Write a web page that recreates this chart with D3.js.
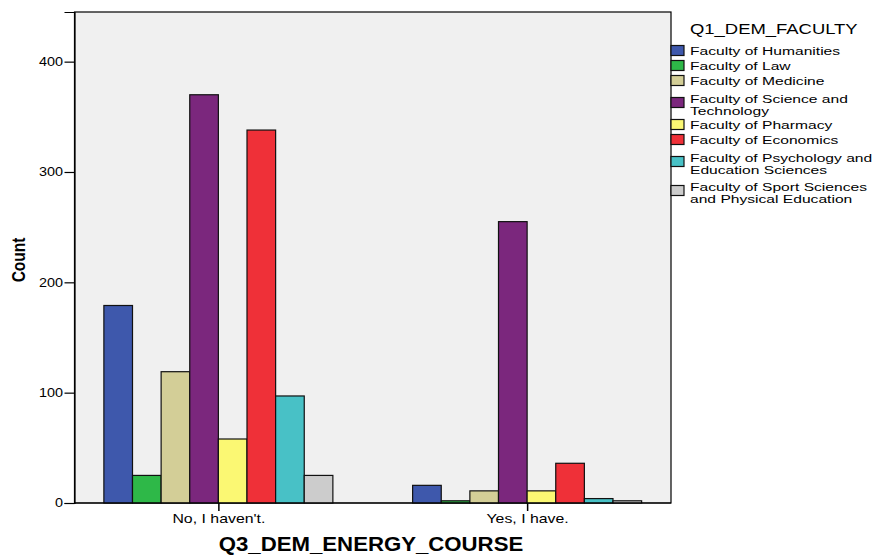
<!DOCTYPE html>
<html>
<head>
<meta charset="utf-8">
<script src="https://cdn.jsdelivr.net/npm/d3@7"></script>
<style>
  body { margin: 0; background: #ffffff; }
  svg { display: block; font-family: "Liberation Sans", Arial, sans-serif; }
</style>
</head>
<body>
<svg id="chart" width="883" height="555"></svg>
<script>
// Clustered bar chart: course attendance by faculty
const categories = ["No, I haven't.", "Yes, I have."];
const faculties = [
  "Faculty of Humanities",
  "Faculty of Law",
  "Faculty of Medicine",
  "Faculty of Science and Technology",
  "Faculty of Pharmacy",
  "Faculty of Economics",
  "Faculty of Psychology and Education Sciences",
  "Faculty of Sport Sciences and Physical Education"
];
const legendLines = [
  ["Faculty of Humanities"],
  ["Faculty of Law"],
  ["Faculty of Medicine"],
  ["Faculty of Science and", "Technology"],
  ["Faculty of Pharmacy"],
  ["Faculty of Economics"],
  ["Faculty of Psychology and", "Education Sciences"],
  ["Faculty of Sport Sciences", "and Physical Education"]
];
const countsNo  = [179, 25, 119, 370, 58, 338, 97, 25];
const countsYes = [16, 2, 11, 255, 11, 36, 4, 2];
const yTicks = [0, 100, 200, 300, 400];
const colors = ["#3e58ac", "#2eb848", "#d3ce97", "#7b277d", "#fbf873", "#ef3038", "#48c1c6", "#cccccc"];

const seriesByCategory = [countsNo, countsYes];

// the text in this chart is set slightly wide
const WIDE = { tick: 1.2, cat: 1.22, legend: 1.42, legendTitle: 1.23, title: 1.11, count: 1.18 };

const svg = d3.select("#chart");
const plot = { left: 74.5, right: 671, top: 12, bottom: 503 };

const y = d3.scaleLinear().domain([0, 445]).range([plot.bottom, plot.top]);
const x0 = d3.scalePoint().domain(categories).range([plot.left, plot.right]).padding(0.466);
const clusterWidth = 229;
const x1 = d3.scaleBand().domain(faculties).range([-clusterWidth / 2, clusterWidth / 2]).paddingInner(0);
const color = d3.scaleOrdinal().domain(faculties).range(colors);

// plot background and frame
svg.append("rect")
  .attr("x", plot.left).attr("y", plot.top)
  .attr("width", plot.right - plot.left).attr("height", plot.bottom - plot.top)
  .attr("fill", "#f0f0f0").attr("stroke", "#000").attr("stroke-width", 1.2);

// bars
const groups = svg.append("g").selectAll("g")
  .data(categories)
  .join("g")
  .attr("transform", d => `translate(${x0(d)},0)`);

groups.selectAll("rect")
  .data((c, i) => faculties.map((f, j) => ({ faculty: f, value: seriesByCategory[i][j] })))
  .join("rect")
  .attr("x", d => x1(d.faculty))
  .attr("width", x1.bandwidth())
  .attr("y", d => y(d.value))
  .attr("height", d => y(0) - y(d.value))
  .attr("fill", d => color(d.faculty))
  .attr("stroke", "#111")
  .attr("stroke-width", 1.2);

// y axis
const yAxis = svg.append("g")
  .attr("transform", `translate(${plot.left},0)`)
  .call(d3.axisLeft(y).tickValues(yTicks).tickSize(10).tickPadding(1.5).tickFormat(d3.format("d")));
yAxis.select(".domain").attr("stroke", "#000").attr("stroke-width", 1.2);
yAxis.selectAll(".tick line").attr("stroke", "#000").attr("stroke-width", 1.2);
yAxis.selectAll(".tick text")
  .attr("font-size", 12).attr("fill", "#000")
  .attr("font-family", "Liberation Sans, Arial, sans-serif")
  .attr("x", -11.5 / WIDE.tick)
  .attr("transform", `scale(${WIDE.tick},1)`);

// x axis
const xAxis = svg.append("g")
  .attr("transform", `translate(0,${plot.bottom})`)
  .call(d3.axisBottom(x0).tickSize(8).tickPadding(3));
xAxis.select(".domain").attr("stroke", "#000").attr("stroke-width", 1.2)
  .attr("d", `M${plot.left},0H${plot.right}`);
xAxis.selectAll(".tick line").attr("stroke", "#000").attr("stroke-width", 1.5);
xAxis.selectAll(".tick text")
  .attr("font-size", 13).attr("fill", "#000")
  .attr("font-family", "Liberation Sans, Arial, sans-serif")
  .attr("transform", `scale(${WIDE.cat},1)`);

// axis titles
svg.append("text")
  .attr("transform", `translate(25,260) rotate(-90) scale(1,${WIDE.count})`)
  .attr("text-anchor", "middle")
  .attr("font-size", 15.5).attr("font-weight", "bold")
  .text("Count");

svg.append("text")
  .attr("transform", `translate(371,551) scale(${WIDE.title},1)`)
  .attr("text-anchor", "middle")
  .attr("font-size", 20).attr("font-weight", "bold")
  .text("Q3_DEM_ENERGY_COURSE");

// legend
const legend = svg.append("g");
legend.append("text")
  .attr("transform", `translate(690,34) scale(${WIDE.legendTitle},1)`)
  .attr("font-size", 15)
  .text("Q1_DEM_FACULTY");

let cursor = 43;
legendLines.forEach((lines, i) => {
  const h = lines.length === 1 ? 15 : 29;
  const cy = cursor + h / 2;
  legend.append("rect")
    .attr("x", 671).attr("y", cy - 5)
    .attr("width", 13).attr("height", 10)
    .attr("fill", colors[i]).attr("stroke", "#111").attr("stroke-width", 1.2);
  const base = lines.length === 1 ? cy + 4.2 : cy;
  // one text element per entry; wrapped lines are tspans
  const label = legend.append("text")
    .attr("transform", `translate(690,${base}) scale(${WIDE.legend},1)`)
    .attr("font-size", 11);
  lines.forEach((line, k) => {
    label.append("tspan")
      .attr("x", 0)
      .attr("y", k * 12.7)
      .text(line);
  });
  cursor += h;
});
</script>
</body>
</html>
